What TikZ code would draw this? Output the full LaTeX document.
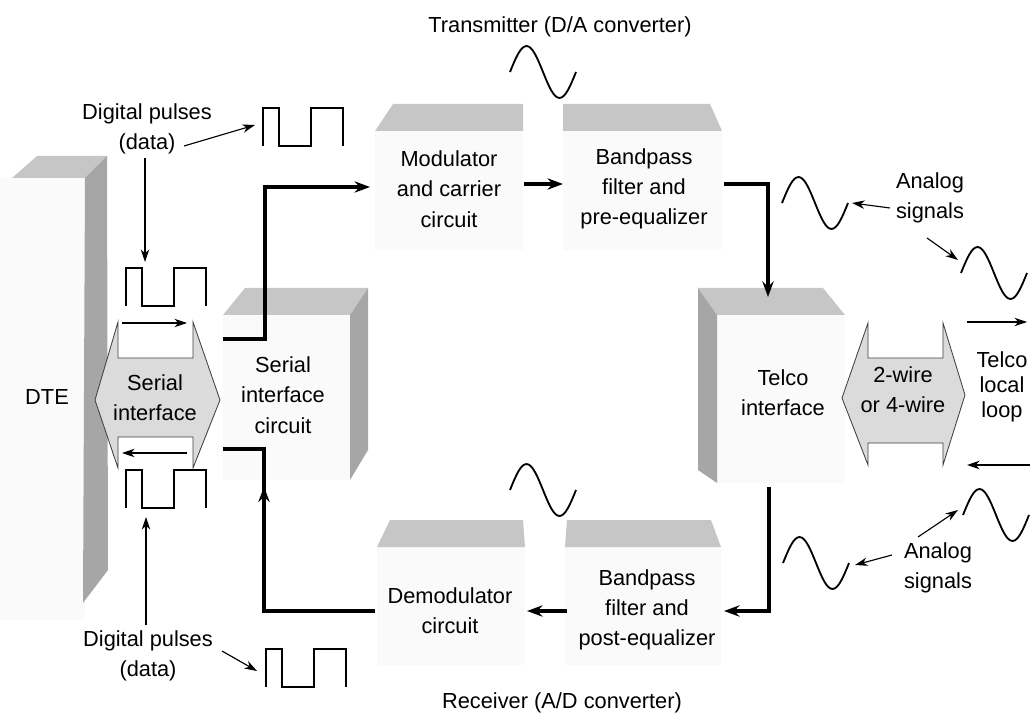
\documentclass[tikz,border=0pt]{standalone}
\usepackage{fontspec}
\setmainfont{Liberation Sans}
\usetikzlibrary{arrows.meta, decorations.markings}
\tikzset{
    lbl/.style = {align=center, inner sep=0pt, font=\fontsize{15.5}{21.5}\selectfont},
    flow/.style = {line width=2.2pt, -{Stealth[length=11pt, width=8pt]}},
    flowmid/.style = {line width=2.2pt,
        postaction={decorate,
            decoration={
                markings,
                mark=at position 0.75 with {\arrow{Stealth[length=11pt, width=8pt]}}
            }
        }
    },
    pointer/.style = {line width=0.8pt, -{Stealth[length=9pt, width=6pt]}},
    signal/.style = {line width=1.3pt},
    topface/.style = {fill=gray!45},
    sideface/.style = {fill=gray!70},
    frontface/.style = {fill=gray!4},
    dblarrow/.style = {fill=gray!28, draw=black!75, line width=0.6pt},
    wave/.pic = {\draw[signal] (0,0) sin (16.5,-26) cos (33,0) sin (49.5,26) cos (66,0);},
    pulses/.pic = {\draw[signal, line width=1.1pt] (0,38) -- (0,0) -- (16,0) -- (16,38) -- (48,38) -- (48,0) -- (80,0) -- (80,38);}
}
\begin{document}
\begin{tikzpicture}[x=0.025cm, y=-0.025cm]
    \useasboundingbox (0,0) rectangle (1032,715);

    % boxes (front, top and side faces)
    \fill[frontface] (0,178) rectangle (85,620);
    \fill[frontface] (223,315) rectangle (350,480);
    \fill[frontface] (375,131) rectangle (523,250);
    \fill[frontface] (563,131) rectangle (722,250);
    \fill[frontface] (717,315) rectangle (845,483);
    \fill[frontface] (377,547) rectangle (525,665);
    \fill[frontface] (565,547) rectangle (721,665);

    \fill[topface] (12,178) -- (37,156) -- (107,156) -- (85,178) -- cycle;
    \fill[sideface] (85,178) -- (107,156) -- (108,570) -- (83,603) -- cycle;
    \fill[topface] (223,315) -- (245,288) -- (368,288) -- (350,315) -- cycle;
    \fill[sideface] (350,315) -- (368,288) -- (368,450) -- (350,480) -- cycle;
    \fill[topface] (375,131) -- (393,104) -- (523,104) -- (523,131) -- cycle;
    \fill[topface] (563,131) -- (563,104) -- (710,104) -- (722,131) -- cycle;
    \fill[topface] (717,315) -- (698,288) -- (823,288) -- (845,315) -- cycle;
    \fill[sideface] (698,288) -- (717,315) -- (717,483) -- (698,470) -- cycle;
    \fill[topface] (377,547) -- (390,520) -- (523,520) -- (525,547) -- cycle;
    \fill[topface] (565,547) -- (567,520) -- (711,520) -- (721,547) -- cycle;

    % double arrows
    \draw[dblarrow] (118,322) -- (118,358) -- (193,358) -- (193,322) -- (220,400) -- (193,468) -- (193,437) -- (118,437) -- (118,468) -- (95,400) -- cycle;
    \draw[dblarrow] (868,323) -- (868,358) -- (943,358) -- (943,323) -- (965,395) -- (943,465) -- (943,443) -- (868,443) -- (868,465) -- (842,398) -- cycle;

    % labels
    \node[lbl] (tx) at (560,27) {Transmitter (D/A converter)};
    \node[lbl] (rx) at (562,703) {Receiver (A/D converter)};
    \node[lbl] (mod) at (449,189) {Modulator\\and carrier\\circuit};
    \node[lbl] (bpf) at (644,189) {Bandpass\\filter and\\pre-equalizer};
    \node[lbl] (demod) at (450,611) {Demodulator\\circuit};
    \node[lbl] (bpfb) at (647,610) {Bandpass\\filter and\\post-equalizer};
    \node[lbl] (sic) at (283,395) {Serial\\interface\\circuit};
    \node[lbl] (si) at (155,398) {Serial\\interface};
    \node[lbl] (dte) at (47,397) {DTE};
    \node[lbl] (telco) at (783,393) {Telco\\interface};
    \node[lbl] (wire) at (903,390) {2-wire\\or 4-wire};
    \node[lbl, font=\fontsize{15.5}{18}\selectfont] (loop) at (1002,387) {Telco\\local\\loop};
    \node[lbl] (dataTx) at (147,129) {Digital pulses\\(data)};
    \node[lbl] (dataRx) at (148,656) {Digital pulses\\(data)};
    \node[lbl] (anaTx) at (930,198) {Analog\\signals};
    \node[lbl] (anaRx) at (938,568) {Analog\\signals};

    % signals
    \coordinate (wTx) at (510,72);
    \coordinate (wA) at (782,203);
    \coordinate (wB) at (961,273);
    \coordinate (wC) at (963,515);
    \coordinate (wD) at (783,563);
    \coordinate (wRx) at (510,490);
    \pic at (wTx) {wave};
    \pic at (wA) {wave};
    \pic at (wB) {wave};
    \pic at (wC) {wave};
    \pic at (wD) {wave};
    \pic at (wRx) {wave};

    \coordinate (pTx) at (263,108);
    \coordinate (pA) at (126,268);
    \coordinate (pB) at (126,470);
    \coordinate (pRx) at (266,649);
    \pic at (pTx) {pulses};
    \pic at (pA) {pulses};
    \pic at (pB) {pulses};
    \pic at (pRx) {pulses};

    % data path
    \coordinate (sicTx) at (223,339);
    \coordinate (txBend) at (265,339);
    \coordinate (modIn) at (370,187);
    \coordinate (modOut) at (524,184);
    \coordinate (bpfIn) at (563,184);
    \coordinate (bpfOut) at (724,184);
    \coordinate (telIn) at (768,297);
    \coordinate (telOut) at (769,487);
    \coordinate (bpfbIn) at (724,611);
    \coordinate (bpfbOut) at (567,611);
    \coordinate (demIn) at (527,611);
    \coordinate (demOut) at (375,611);
    \coordinate (rxBend) at (264,449);
    \coordinate (sicRx) at (223,449);

    \draw[flow] (sicTx) -- (txBend) |- (modIn);
    \draw[flow] (modOut) -- (bpfIn);
    \draw[flow] (bpfOut) -| (telIn);
    \draw[flow] (telOut) |- (bpfbIn);
    \draw[flow] (bpfbOut) -- (demIn);
    \draw[flowmid] (demOut) -| (rxBend) -- (sicRx);

    % pointers
    \coordinate (dTxA) at (184,146);
    \coordinate (dTxB) at (255,125);
    \coordinate (dTxC) at (145,158);
    \coordinate (dTxD) at (145,262);
    \coordinate (dRxA) at (146,625);
    \coordinate (dRxB) at (146,517);
    \coordinate (dRxC) at (222,651);
    \coordinate (dRxD) at (257,671);
    \coordinate (siA) at (122,323);
    \coordinate (siB) at (187,323);
    \coordinate (siC) at (187,453);
    \coordinate (siD) at (122,453);
    \coordinate (aTxA) at (890,208);
    \coordinate (aTxB) at (852,203);
    \coordinate (aTxC) at (927,238);
    \coordinate (aTxD) at (958,260);
    \coordinate (lpA) at (967,322);
    \coordinate (lpB) at (1027,322);
    \coordinate (lpC) at (1030,465);
    \coordinate (lpD) at (967,465);
    \coordinate (aRxA) at (918,537);
    \coordinate (aRxB) at (958,510);
    \coordinate (aRxC) at (892,555);
    \coordinate (aRxD) at (855,565);

    \draw[pointer] (dTxA) -- (dTxB);
    \draw[pointer] (dTxC) -- (dTxD);
    \draw[pointer] (dRxA) -- (dRxB);
    \draw[pointer] (dRxC) -- (dRxD);
    \draw[pointer] (siA) -- (siB);
    \draw[pointer] (siC) -- (siD);
    \draw[pointer] (aTxA) -- (aTxB);
    \draw[pointer] (aTxC) -- (aTxD);
    \draw[pointer] (lpA) -- (lpB);
    \draw[pointer] (lpC) -- (lpD);
    \draw[pointer] (aRxA) -- (aRxB);
    \draw[pointer] (aRxC) -- (aRxD);
\end{tikzpicture}
\end{document}
